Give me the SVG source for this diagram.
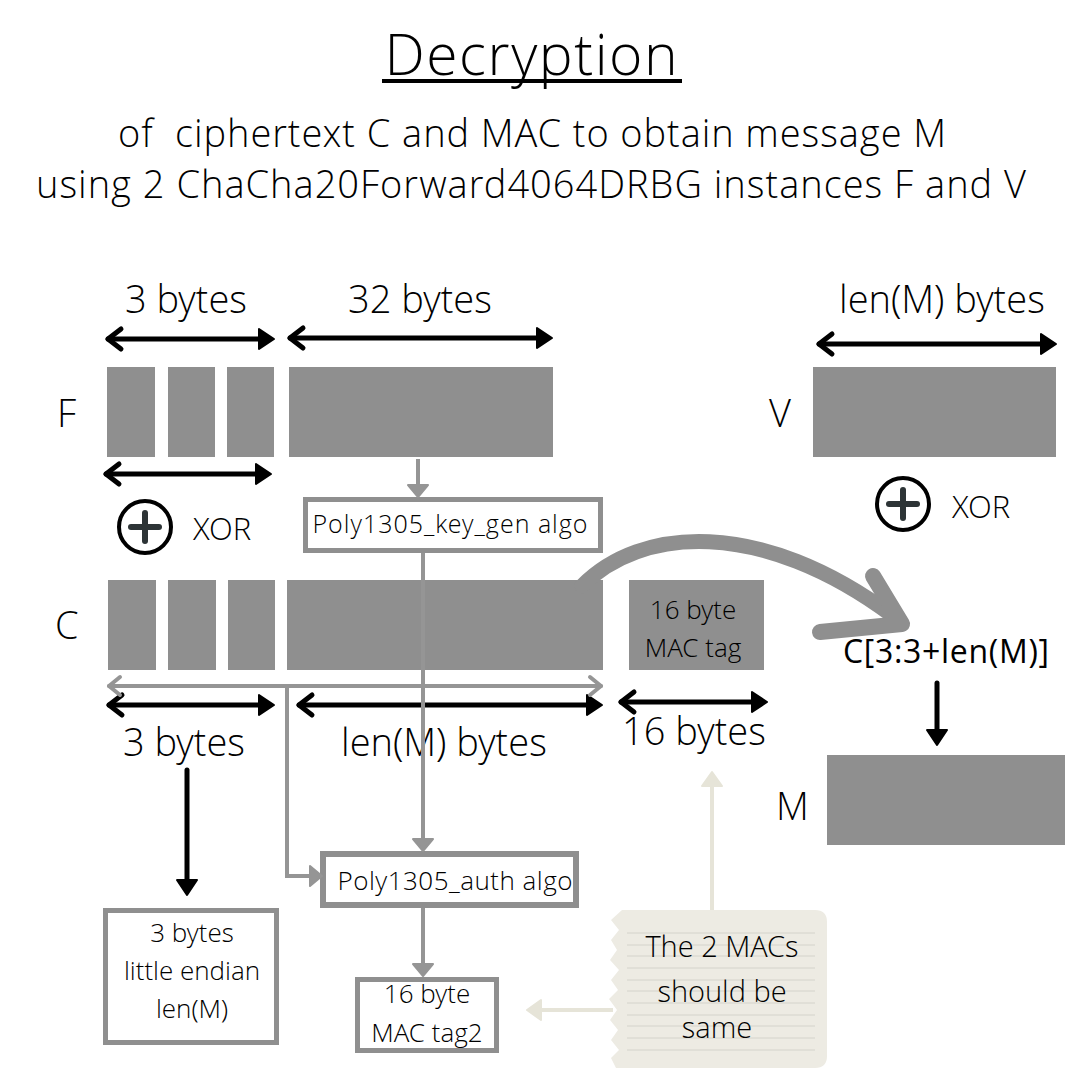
<svg xmlns="http://www.w3.org/2000/svg" width="1080" height="1080" viewBox="0 0 1080 1080">
<style>
  text { font-family: "Open Sans Light", "Open Sans", "Liberation Sans", sans-serif; font-weight: 300; fill: #000; }
  .reg { font-family: "Open Sans", "Liberation Sans", sans-serif; font-weight: 400; }
  .t38 { font-size: 38px; }
  .t26 { font-size: 26px; }
  .t31 { font-size: 31px; }
  .mid { text-anchor: middle; }
  .blk { fill: #8f8f8f; }
  .box { fill: #fff; stroke: #8f8f8f; }
  .barr { stroke: #000; stroke-width: 5; fill: none; stroke-linecap: round; }
  .garr { stroke: #959595; stroke-width: 4; fill: none; }
  .bearr { stroke: #e6e4d8; stroke-width: 4; fill: none; }
  .xc { fill: none; stroke: #000; stroke-width: 4; }
  .xp { stroke: #2d3436; stroke-width: 6; stroke-linecap: round; }
  .rule { stroke: #d4d3cb; stroke-width: 1; }
</style>
<defs>
  <marker id="bHead" markerUnits="userSpaceOnUse" viewBox="-15 -15 30 30" markerWidth="30" markerHeight="30" refX="0" refY="0" orient="auto" overflow="visible">
    <path d="M-9,-10 L6,0 L-9,10 Z" fill="#000" stroke="#000" stroke-width="2" stroke-linejoin="round"/>
  </marker>
  <marker id="bChev" markerUnits="userSpaceOnUse" viewBox="-15 -15 30 30" markerWidth="30" markerHeight="30" refX="0" refY="0" orient="auto-start-reverse" overflow="visible">
    <path d="M-13,-10 L0,0 L-13,10" fill="none" stroke="#000" stroke-width="5" stroke-linecap="round" stroke-linejoin="round"/>
  </marker>
  <marker id="gChev" markerUnits="userSpaceOnUse" viewBox="-15 -15 30 30" markerWidth="30" markerHeight="30" refX="0" refY="0" orient="auto-start-reverse" overflow="visible">
    <path d="M-11,-9 L0,0 L-11,9" fill="none" stroke="#959595" stroke-width="4" stroke-linecap="round" stroke-linejoin="round"/>
  </marker>
  <marker id="gHead" markerUnits="userSpaceOnUse" viewBox="-15 -15 30 30" markerWidth="30" markerHeight="30" refX="0" refY="0" orient="auto" overflow="visible">
    <path d="M-7,-10 L5,0 L-7,10 Z" fill="#959595" stroke="#959595" stroke-width="2" stroke-linejoin="round"/>
  </marker>
  <marker id="beHead" markerUnits="userSpaceOnUse" viewBox="-15 -15 30 30" markerWidth="30" markerHeight="30" refX="0" refY="0" orient="auto" overflow="visible">
    <path d="M-8,-10 L6,0 L-8,10 Z" fill="#e6e4d8" stroke="#e6e4d8" stroke-width="2" stroke-linejoin="round"/>
  </marker>
</defs>

<rect x="0" y="0" width="1080" height="1080" fill="#fff"/>

<g id="title">
  <text x="531" y="75" class="mid" font-size="57" textLength="293">Decryption</text>
  <rect x="382" y="79" width="300" height="4" fill="#000"/>
  <text x="532" y="147" class="mid t38" xml:space="preserve" textLength="828">of  ciphertext C and MAC to obtain message M</text>
  <text x="531" y="198" class="mid t38" textLength="990">using 2 ChaCha20Forward4064DRBG instances F and V</text>
</g>

<g id="node-F">
  <text x="57" y="427" class="t38">F</text>
  <rect class="blk" x="107" y="367" width="48" height="90"/>
  <rect class="blk" x="168" y="367" width="47" height="90"/>
  <rect class="blk" x="227" y="367" width="47" height="90"/>
  <rect class="blk" x="289" y="367" width="264" height="90"/>
  <text x="186" y="313" class="mid t38">3 bytes</text>
  <text x="420" y="313" class="mid t38">32 bytes</text>
</g>

<g id="xor-F">
  <circle class="xc" cx="145" cy="527" r="26"/>
  <line class="xp" x1="131" y1="527" x2="159" y2="527"/>
  <line class="xp" x1="145" y1="513" x2="145" y2="541"/>
  <text x="193" y="540" class="t31">XOR</text>
</g>

<g id="node-V">
  <text x="769" y="427" class="t38">V</text>
  <rect class="blk" x="813" y="367" width="243" height="90"/>
  <text x="942" y="313" class="mid t38">len(M) bytes</text>
</g>

<g id="xor-V">
  <circle class="xc" cx="903" cy="504" r="26"/>
  <line class="xp" x1="889" y1="504" x2="917" y2="504"/>
  <line class="xp" x1="903" y1="490" x2="903" y2="518"/>
  <text x="952" y="518" class="t31">XOR</text>
</g>

<g id="node-keygen">
  <rect class="box" x="305.5" y="499.5" width="295" height="51" stroke-width="5"/>
  <text x="450" y="533" class="mid" font-size="25" textLength="275">Poly1305_key_gen algo</text>
</g>

<g id="node-C">
  <text x="55" y="639" class="t38">C</text>
  <rect class="blk" x="108" y="580" width="48" height="90"/>
  <rect class="blk" x="168" y="580" width="48" height="90"/>
  <rect class="blk" x="228" y="580" width="47" height="90"/>
  <rect class="blk" x="287" y="580" width="316" height="90"/>
  <text x="184" y="756" class="mid t38">3 bytes</text>
  <text x="444" y="756" class="mid t38">len(M) bytes</text>
</g>

<g id="node-mac">
  <rect class="blk" x="629" y="580" width="135" height="90"/>
  <text x="693" y="619" class="mid t26" fill="#222">16 byte</text>
  <text x="693" y="657" class="mid t26" fill="#222">MAC tag</text>
  <text x="694" y="745" class="mid t38">16 bytes</text>
</g>

<g id="node-slice">
  <text x="946" y="663" class="mid reg" font-size="32" textLength="206">C[3:3+len(M)]</text>
</g>

<g id="node-M">
  <text x="776" y="820" class="t38">M</text>
  <rect class="blk" x="827" y="755" width="238" height="90"/>
</g>

<g id="node-len">
  <rect class="box" x="105.5" y="910.5" width="171" height="132" stroke-width="5"/>
  <text x="192" y="942" class="mid t26">3 bytes</text>
  <text x="192" y="980" class="mid t26">little endian</text>
  <text x="192" y="1018" class="mid t26">len(M)</text>
</g>

<g id="node-auth">
  <rect class="box" x="323" y="854" width="253" height="51" stroke-width="6"/>
  <text x="455" y="890" class="mid t26" textLength="235">Poly1305_auth algo</text>
</g>

<g id="node-tag2">
  <rect class="box" x="357.5" y="979.5" width="139" height="71" stroke-width="5"/>
  <text x="427" y="1003" class="mid t26">16 byte</text>
  <text x="427" y="1042" class="mid t26">MAC tag2</text>
</g>

<g id="note">
  <path d="M622,910 L815,910 Q827,910 827,922 L827,1056 Q827,1068 815,1068 L616,1068 L611,1058 L619,1050 L611,1040 L618,1030 L610,1020 L617,1010 L609,999 L618,990 L611,980 L619,970 L610,960 L617,950 L611,940 L619,930 L611,920 Z" fill="#edebe3"/>
  <g class="rule">
    <line x1="627" y1="933" x2="815" y2="933"/>
    <line x1="627" y1="945" x2="815" y2="945"/>
    <line x1="627" y1="956" x2="815" y2="956"/>
    <line x1="627" y1="968" x2="815" y2="968"/>
    <line x1="627" y1="980" x2="815" y2="980"/>
    <line x1="627" y1="991" x2="815" y2="991"/>
    <line x1="627" y1="1003" x2="815" y2="1003"/>
    <line x1="627" y1="1015" x2="815" y2="1015"/>
    <line x1="627" y1="1026" x2="815" y2="1026"/>
    <line x1="627" y1="1038" x2="815" y2="1038"/>
    <line x1="627" y1="1050" x2="815" y2="1050"/>
  </g>
  <text x="722" y="957" class="mid" font-size="29">The 2 MACs</text>
  <text x="722" y="1002" class="mid" font-size="29">should be</text>
  <text x="717" y="1038" class="mid" font-size="29">same</text>
</g>

<g id="connectors">
  <line class="barr" x1="108" y1="339" x2="268" y2="339" marker-start="url(#bChev)" marker-end="url(#bHead)"/>
  <line class="barr" x1="290" y1="338" x2="546" y2="338" marker-start="url(#bChev)" marker-end="url(#bHead)"/>
  <line class="barr" x1="106" y1="474" x2="265" y2="474" marker-start="url(#bChev)" marker-end="url(#bHead)"/>
  <line class="barr" x1="819" y1="344" x2="1050" y2="344" marker-start="url(#bChev)" marker-end="url(#bHead)"/>
  <line class="barr" x1="109" y1="705" x2="268" y2="705" marker-start="url(#bChev)" marker-end="url(#bHead)"/>
  <line class="barr" x1="299" y1="705" x2="596" y2="705" marker-start="url(#bChev)" marker-end="url(#bHead)"/>
  <line class="barr" x1="621" y1="702" x2="761" y2="702" marker-start="url(#bChev)" marker-end="url(#bHead)"/>
  <line class="barr" x1="187" y1="770" x2="187" y2="889" marker-end="url(#bHead)"/>
  <line class="barr" x1="937" y1="683" x2="937" y2="739" marker-end="url(#bHead)"/>
  <line class="garr" x1="418" y1="459" x2="418" y2="492" marker-end="url(#gHead)"/>
  <line class="garr" x1="109" y1="686" x2="601" y2="686" stroke-linecap="round" marker-start="url(#gChev)" marker-end="url(#gChev)"/>
  <polyline class="garr" points="287,686 287,876 317,876" marker-end="url(#gHead)"/>
  <line class="garr" x1="423" y1="553" x2="423" y2="846" marker-end="url(#gHead)"/>
  <line class="garr" x1="423" y1="908" x2="423" y2="971" marker-end="url(#gHead)"/>
  <path d="M582,586 C640,527 760,517 893,616" fill="none" stroke="#8f8f8f" stroke-width="15" stroke-linecap="round"/>
  <polyline points="873,576 902,624 820,632" fill="none" stroke="#8f8f8f" stroke-width="16" stroke-linecap="round" stroke-linejoin="round"/>
  <line class="bearr" x1="712" y1="910" x2="712" y2="778" marker-end="url(#beHead)"/>
  <line class="bearr" x1="613" y1="1010" x2="533" y2="1010" marker-end="url(#beHead)"/>
</g>
</svg>
